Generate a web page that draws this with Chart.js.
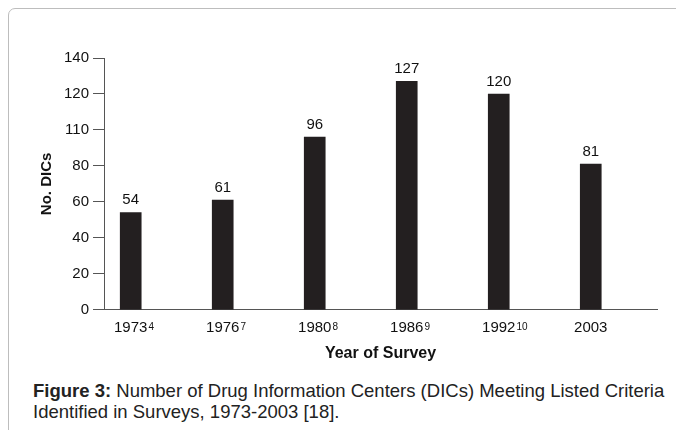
<!DOCTYPE html>
<html>
<head>
<meta charset="utf-8">
<script src="https://cdn.jsdelivr.net/npm/chart.js@4/dist/chart.umd.min.js"></script>
<style>
    html, body { margin: 0; padding: 0; background: #fff; overflow: hidden; }
    body { width: 676px; height: 430px; position: relative; font-family: "Liberation Sans", Arial, sans-serif; }
    #frame {
        position: absolute; left: 8px; top: 8px; width: 700px; height: 460px;
        border: 1.5px solid #bdbdbd; border-radius: 7px; box-sizing: border-box;
    }
    #chart-wrap { position: absolute; left: 0; top: 0; width: 676px; height: 370px; }
    #caption {
        position: absolute; left: 33px; top: 380px; width: 640px;
        font-size: 18.5px; line-height: 21px; color: #222; white-space: nowrap;
    }
</style>
</head>
<body>
<div id="frame"></div>
<div id="chart-wrap"><canvas id="dicChart"></canvas></div>
<div id="caption"><b>Figure 3:</b> Number of Drug Information Centers (DICs) Meeting Listed Criteria<br>Identified in Surveys, 1973-2003 [18].</div>
<script>
const years = ['1973', '1976', '1980', '1986', '1992', '2003'];
const yearRefs = ['4', '7', '8', '9', '10', ''];
const dicCounts = [54, 61, 96, 127, 120, 81];
const yTickValues = [0, 20, 40, 60, 80, 100, 120, 140];
const yTickLabels = ['0', '20', '40', '60', '80', '110', '120', '140'];

const FONT = '"Liberation Sans", Arial, sans-serif';

// value labels above each bar + small reference numbers after the years
const barLabels = {
    id: 'barLabels',
    afterDraw(chart) {
        const ctx = chart.ctx;
        const meta = chart.getDatasetMeta(0);
        const xScale = chart.scales.x;
        ctx.save();
        ctx.fillStyle = '#111';
        ctx.textAlign = 'center';
        ctx.textBaseline = 'bottom';
        ctx.font = '15px ' + FONT;
        meta.data.forEach((bar, i) => {
            ctx.fillText(String(dicCounts[i]), bar.x, bar.y - 5);
        });
        // reference digits, raised next to the year
        xScale.ticks.forEach((t, i) => {
            if (!yearRefs[i]) return;
            ctx.font = '15px ' + FONT;
            const w = ctx.measureText(years[i]).width;
            const x = xScale.getPixelForValue(t.value) + w / 2 + 1;
            ctx.font = '10px ' + FONT;
            ctx.textAlign = 'left';
            ctx.textBaseline = 'alphabetic';
            ctx.fillText(yearRefs[i], x, xScale.top + 20);
        });
        ctx.restore();
    }
};

const ctx = document.getElementById('dicChart').getContext('2d');
new Chart(ctx, {
    type: 'bar',
    data: {
        datasets: [{
            data: dicCounts.map((v, i) => ({ x: i, y: v })),
            backgroundColor: '#231f20',
            barThickness: 21
        }]
    },
    options: {
        responsive: true,
        maintainAspectRatio: false,
        animation: false,
        layout: { padding: { left: 38, right: 19, top: 58, bottom: 7 } },
        plugins: { legend: { display: false }, tooltip: { enabled: false } },
        scales: {
            x: {
                type: 'linear',
                offset: false,
                min: -0.29,
                max: 5.72,
                afterBuildTicks: (axis) => { axis.ticks = years.map((_, i) => ({ value: i })); },
                ticks: {
                    color: '#111',
                    font: { size: 15, family: FONT },
                    padding: 1,
                    maxRotation: 0,
                    autoSkip: false,
                    callback: (v) => years[v]
                },
                grid: { display: false },
                border: { color: '#555', width: 1 },
                title: {
                    display: true,
                    text: 'Year of Survey',
                    color: '#111',
                    font: { size: 16, weight: 'bold', family: FONT },
                    padding: { top: 6, bottom: 0 }
                }
            },
            y: {
                min: 0,
                max: 140,
                afterBuildTicks: (axis) => { axis.ticks = yTickValues.map(v => ({ value: v })); },
                ticks: {
                    color: '#111',
                    font: { size: 15, family: FONT },
                    padding: 4,
                    callback: (v) => yTickLabels[yTickValues.indexOf(v)]
                },
                grid: { drawOnChartArea: false, drawTicks: true, tickLength: 11, color: '#555' },
                border: { color: '#555', width: 1 },
                title: {
                    display: true,
                    text: 'No. DICs',
                    color: '#111',
                    font: { size: 15, weight: 'bold', family: FONT },
                    padding: { top: 0, bottom: 4 }
                }
            }
        }
    },
    plugins: [barLabels]
});
</script>
</body>
</html>
